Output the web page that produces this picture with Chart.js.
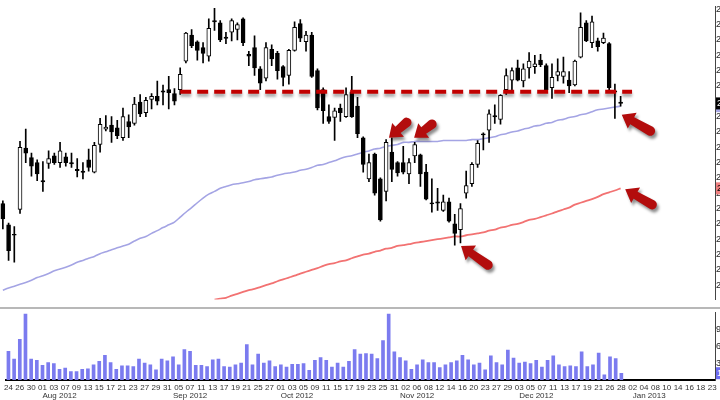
<!DOCTYPE html>
<html>
<head>
<meta charset="utf-8">
<script src="https://cdn.jsdelivr.net/npm/chart.js@4.4.1/dist/chart.umd.min.js"></script>
<style>
html, body { margin: 0; padding: 0; overflow: hidden; background: #fff; }
#wrap { position: relative; width: 720px; height: 400px; overflow: hidden; }
#price { position: absolute; left: 0; top: 0; }
#vol { position: absolute; left: 0; top: 306px; }
#sep { position: absolute; left: 0; top: 307px; width: 720px; height: 2px; background: #b8b8b8; }
</style>
</head>
<body>
<div id="wrap">
  <canvas id="price" width="760" height="306"></canvas>
  <div id="sep"></div>
  <canvas id="vol" width="760" height="94"></canvas>
</div>
<script>
// trading days, Jul 2012 - Jan 2013 (last ones are empty space on the right)
const monthNames = ['Jul', 'Aug', 'Sep', 'Oct', 'Nov', 'Dec', 'Jan'];
const monthYears = [2012, 2012, 2012, 2012, 2012, 2012, 2013];
const dayJul = [24, 25, 26, 27, 30, 31];
const dayAug = [1, 2, 3, 6, 7, 8, 9, 10, 13, 14, 15, 16, 17, 20, 21, 22, 23, 24, 27, 28, 29, 30, 31];
const daySep = [4, 5, 6, 7, 10, 11, 12, 13, 14, 17, 18, 19, 20, 21, 24, 25, 26, 27, 28];
const dayOct = [1, 2, 3, 4, 5, 8, 9, 10, 11, 12, 15, 16, 17, 18, 19, 22, 23, 24, 25, 26, 31];
const dayNov = [1, 2, 5, 6, 7, 8, 9, 12, 13, 14, 15, 16, 19, 20, 21, 23, 26, 27, 28, 29, 30];
const dayDec = [3, 4, 5, 6, 7, 10, 11, 12, 13, 14, 17, 18, 19, 20, 21, 24, 26, 27, 28, 31];
const dayJan = [2, 3, 4, 7, 8, 9, 10, 11, 14, 15, 16, 17, 18, 22, 23];
const monthDays = [dayJul, dayAug, daySep, dayOct, dayNov, dayDec, dayJan];

const openP = [22.66,21.97,21.66,22.47,24.47,24.16,24.00,23.41,23.97,24.22,
  24.00,24.19,24.00,23.78,23.72,24.09,23.69,24.59,25.09,25.22,
  25.13,24.81,25.34,25.28,25.97,25.63,26.06,26.16,26.34,26.38,
  26.25,26.38,27.31,28.16,27.94,27.75,27.47,28.63,28.56,28.09,
  28.25,28.34,28.69,27.53,27.75,27.06,26.75,27.69,27.56,27.13,
  26.84,27.66,28.53,27.94,28.16,27.00,26.38,25.50,25.47,25.78,
  25.50,26.31,25.84,24.81,23.47,24.28,23.47,23.06,24.34,24.00,
  24.00,23.63,24.22,24.25,23.69,22.69,22.72,22.44,22.72,22.00,
  21.81,23.00,23.31,23.94,24.94,25.06,25.53,25.41,26.38,26.69,
  27.09,26.66,27.09,27.13,27.34,27.16,26.44,26.84,26.81,26.69,
  26.53,27.44,28.56,27.91,27.97,27.91,27.88,26.34,25.97];
const highP = [22.75,22.03,21.91,24.69,25.09,24.31,24.09,24.03,24.38,24.31,
  24.66,24.31,24.31,24.13,24.00,24.44,24.66,25.44,25.53,25.50,
  25.38,25.78,25.56,26.13,26.22,26.13,26.25,26.66,26.53,26.81,
  26.41,27.09,28.25,28.34,27.97,27.91,28.69,29.03,28.63,28.25,
  28.69,28.56,28.72,27.63,28.13,27.13,27.91,27.84,27.63,27.16,
  27.69,28.59,28.66,28.28,28.25,27.06,26.44,25.88,25.78,25.91,
  26.44,26.81,26.13,24.84,24.28,24.31,23.50,24.75,24.81,24.03,
  24.53,24.13,24.66,24.28,23.94,23.47,23.16,22.94,22.84,22.31,
  22.66,23.72,24.00,24.72,24.97,25.72,25.88,26.22,27.06,27.09,
  27.34,27.22,27.59,27.50,27.53,27.22,27.22,27.38,27.44,26.97,
  27.34,28.88,28.63,28.78,28.06,28.22,27.91,26.56,26.16];
const lowP = [21.84,20.81,20.75,22.34,24.00,23.56,23.41,23.06,23.81,23.94,
  23.84,23.88,23.84,23.53,23.47,23.72,23.66,24.34,25.03,24.66,
  24.78,24.72,24.81,25.22,25.50,25.50,25.75,25.88,25.88,25.75,
  25.88,26.22,27.25,27.75,27.34,27.25,27.31,28.31,27.94,27.88,
  27.97,28.00,27.81,27.16,26.84,26.38,26.66,27.16,26.72,26.50,
  26.56,27.63,27.94,27.63,26.78,25.72,25.28,25.28,24.72,25.34,
  25.47,25.47,24.81,23.69,23.38,22.94,22.09,22.75,23.38,23.56,
  23.63,23.31,24.00,23.22,22.78,22.38,22.44,22.41,22.06,21.31,
  21.38,22.84,23.22,23.84,24.41,24.66,25.28,25.25,26.22,26.38,
  26.66,26.47,26.75,26.91,27.13,26.28,26.09,26.66,26.59,26.28,
  26.50,27.41,27.94,27.75,27.63,27.88,26.38,25.44,25.84];
const closeP = [22.16,21.13,21.63,24.50,24.31,23.88,23.63,23.37,24.13,24.00,
  24.38,24.00,23.96,23.74,23.68,23.84,24.56,25.25,25.16,25.00,
  24.88,25.50,25.16,25.91,25.59,26.03,26.16,26.00,26.30,26.28,
  26.00,26.88,28.22,27.81,27.66,27.56,28.38,28.59,28.00,28.05,
  28.63,28.50,27.91,27.47,27.09,26.59,27.75,27.38,27.00,26.78,
  27.66,28.41,28.06,28.16,26.81,25.78,25.69,25.34,25.69,25.63,
  26.22,25.50,24.94,23.94,24.00,23.00,22.13,24.66,23.78,23.66,
  23.69,24.00,24.59,23.63,22.81,22.65,22.68,22.72,22.09,21.69,
  22.50,23.25,23.94,24.63,24.90,25.59,25.49,26.19,26.84,27.00,
  26.69,27.06,27.31,27.22,27.19,26.38,26.78,26.97,26.97,26.50,
  27.31,28.41,27.97,28.59,27.78,28.06,26.44,26.30,25.93];
// volume, millions
const volume = [5.1,3.7,7.2,11.7,3.7,3.5,2.6,3.1,2.9,1.9,
  2.1,1.5,1.5,1.9,2.0,2.7,3.3,4.4,3.1,1.9,
  2.5,2.5,2.4,3.7,3.0,2.7,1.8,3.7,3.4,4.1,
  2.7,5.4,5.1,2.6,2.6,2.4,3.6,3.7,2.4,2.3,
  2.7,3.0,6.3,2.7,4.6,3.0,3.4,2.4,2.7,2.3,
  2.8,2.8,2.9,1.7,3.5,4.0,3.5,2.3,3.0,2.3,
  3.3,5.4,4.6,4.7,4.6,3.8,7.0,11.7,5.0,4.0,
  3.4,1.9,2.7,3.6,3.1,3.1,2.2,2.7,3.1,3.4,
  4.4,3.6,2.7,3.0,1.8,4.3,3.1,2.7,5.3,3.9,
  3.0,3.2,2.9,3.5,2.3,3.5,4.3,2.7,2.4,2.5,
  2.4,5.0,2.4,2.7,4.8,0.9,4.1,3.8,1.2];
// moving averages
const maFast = [19.84,19.91,19.97,20.03,20.09,20.16,20.25,20.31,20.38,20.47,
  20.53,20.59,20.66,20.75,20.81,20.88,20.94,21.03,21.09,21.16,
  21.22,21.28,21.34,21.44,21.53,21.59,21.69,21.78,21.88,21.97,
  22.06,22.22,22.38,22.53,22.69,22.84,22.97,23.06,23.16,23.22,
  23.28,23.31,23.34,23.38,23.44,23.47,23.50,23.53,23.59,23.63,
  23.66,23.69,23.75,23.78,23.84,23.91,23.94,24.00,24.06,24.13,
  24.19,24.22,24.28,24.34,24.38,24.44,24.47,24.53,24.56,24.59,
  24.66,24.66,24.69,24.69,24.69,24.69,24.69,24.72,24.72,24.72,
  24.72,24.72,24.75,24.75,24.78,24.81,24.84,24.91,24.94,25.00,
  25.03,25.09,25.13,25.19,25.22,25.28,25.31,25.38,25.41,25.47,
  25.50,25.56,25.59,25.66,25.72,25.75,25.78,25.81,25.84];
const maSlowStart = 37;
const maSlow = [19.53,19.56,19.59,19.66,19.72,19.78,19.84,19.88,19.94,20.00,
  20.06,20.13,20.19,20.25,20.31,20.38,20.44,20.50,20.56,20.63,
  20.69,20.72,20.78,20.81,20.88,20.94,21.00,21.03,21.09,21.13,
  21.19,21.22,21.28,21.31,21.34,21.38,21.41,21.44,21.47,21.50,
  21.53,21.56,21.59,21.59,21.63,21.66,21.69,21.72,21.78,21.81,
  21.88,21.91,21.97,22.00,22.06,22.13,22.16,22.22,22.28,22.34,
  22.41,22.47,22.53,22.63,22.69,22.75,22.81,22.88,22.97,23.03,
  23.09,23.16];
// dashed resistance line
const resistLevel = 26.31;
const resistFrom = 31;
const resistTo = 110;
// red arrows: [index, price] of tip and tail
const arrowTips = [[67.5, 24.81], [71.9, 24.81], [80.1, 21.28], [108.2, 25.56], [108.8, 23.13]];
const arrowTails = [[70.6, 25.31], [75.0, 25.25], [84.8, 20.66], [113.2, 25.03], [113.5, 22.63]];

const labels = [];
const dayOf = [];
const monthLabel = [];
monthDays.forEach((days, m) => {
  days.forEach((d, j) => {
    labels.push(monthNames[m] + ' ' + d + ' ' + monthYears[m]);
    dayOf.push(String(d).padStart(2, '0'));
    monthLabel.push(j === 0 && m > 0 ? monthNames[m] + ' ' + monthYears[m] : '');
  });
});

const bodies = openP.map((o, i) => [o, closeP[i]]);
const wicks = lowP.map((l, i) => [l, highP[i]]);
const bodyColors = openP.map((o, i) => closeP[i] >= o ? '#ffffff' : '#000000');
const maSlowData = labels.map((_, i) => i >= maSlowStart && i - maSlowStart < maSlow.length ? maSlow[i - maSlowStart] : null);
const resistData = labels.map((_, i) => i >= resistFrom && i <= resistTo ? resistLevel : null);

const FONT = 'Liberation Sans';

const shadowPlugin = {
  id: 'shadow',
  beforeDatasetDraw(chart, args) {
    if (!chart.data.datasets[args.index].shadow) return;
    const ctx = chart.ctx;
    ctx.save();
    ctx.shadowColor = 'rgba(0,0,0,0.35)';
    ctx.shadowBlur = 3;
    ctx.shadowOffsetY = 3;
  },
  afterDatasetDraw(chart, args) {
    if (chart.data.datasets[args.index].shadow) chart.ctx.restore();
  }
};

function drawArrow(ctx, sx, sy, tx, ty) {
  const len = Math.hypot(tx - sx, ty - sy);
  const ux = (tx - sx) / len, uy = (ty - sy) / len;
  const nx = -uy, ny = ux;
  const headLen = 12, headHalf = 9, shaft = 4;
  const bx = tx - ux * headLen, by = ty - uy * headLen;
  ctx.beginPath();
  ctx.moveTo(tx, ty);
  ctx.lineTo(bx + nx * headHalf, by + ny * headHalf);
  ctx.lineTo(bx + nx * shaft, by + ny * shaft);
  ctx.lineTo(sx + nx * shaft * 1.2, sy + ny * shaft * 1.2);
  ctx.arc(sx, sy, shaft * 1.2, Math.atan2(ny, nx), Math.atan2(-ny, -nx));
  ctx.lineTo(bx - nx * shaft, by - ny * shaft);
  ctx.lineTo(bx - nx * headHalf, by - ny * headHalf);
  ctx.closePath();
  ctx.fill();
}

function tagLabel(ctx, x, y, text, bg, fg) {
  ctx.fillStyle = bg;
  ctx.fillRect(x, y - 6, 44, 12);
  ctx.fillStyle = fg;
  ctx.font = '9px ' + FONT;
  ctx.textBaseline = 'middle';
  ctx.textAlign = 'left';
  ctx.fillText(text, x + 1, y);
}

const annotatePlugin = {
  id: 'annotate',
  afterDatasetsDraw(chart) {
    const ctx = chart.ctx, xs = chart.scales.x, ys = chart.scales.y;
    ctx.save();
    ctx.fillStyle = '#b30d0d';
    ctx.shadowColor = 'rgba(0,0,0,0.45)';
    ctx.shadowBlur = 3;
    ctx.shadowOffsetX = 2;
    ctx.shadowOffsetY = 3;
    arrowTips.forEach((tip, k) => {
      const tail = arrowTails[k];
      drawArrow(ctx, xs.getPixelForValue(tail[0]), ys.getPixelForValue(tail[1]),
        xs.getPixelForValue(tip[0]), ys.getPixelForValue(tip[1]));
    });
    ctx.restore();
  },
  afterDraw(chart) {
    const ctx = chart.ctx, ys = chart.scales.y, x = chart.chartArea.right + 1;
    const last = closeP.length - 1;
    ctx.save();
    tagLabel(ctx, x, ys.getPixelForValue(maSlow[maSlow.length - 1]), maSlow[maSlow.length - 1].toFixed(2), '#f08080', '#000');
    tagLabel(ctx, x, ys.getPixelForValue(maFast[last]), maFast[last].toFixed(2), '#a8a8e6', '#000');
    tagLabel(ctx, x, ys.getPixelForValue(closeP[last]), closeP[last].toFixed(2), '#000', '#fff');
    ctx.restore();
  }
};

new Chart(document.getElementById('price'), {
  type: 'bar',
  data: {
    labels: labels,
    datasets: [
      { type: 'line', data: resistData, borderColor: '#c10000', borderWidth: 4, borderDash: [11, 6],
        pointRadius: 0, order: 0, shadow: true },
      { type: 'bar', data: bodies, backgroundColor: bodyColors, borderColor: '#000', borderWidth: 1,
        borderSkipped: false, barThickness: 4, grouped: false, order: 1 },
      { type: 'bar', data: wicks, backgroundColor: '#000', barThickness: 1, grouped: false, order: 2 },
      { type: 'line', data: maFast, borderColor: '#a4a4e4', borderWidth: 1.6, pointRadius: 0, tension: 0.3, order: 3 },
      { type: 'line', data: maSlowData, borderColor: '#f27272', borderWidth: 1.8, pointRadius: 0, tension: 0.3, order: 3 }
    ]
  },
  options: {
    responsive: false,
    animation: false,
    events: [],
    layout: { padding: 0 },
    plugins: { legend: { display: false }, tooltip: { enabled: false } },
    scales: {
      x: { display: false, offset: true },
      y: {
        position: 'right', min: 19.53125, max: 29.09375,
        grid: { display: false, drawTicks: false },
        border: { display: true, color: '#444', width: 1 },
        ticks: { stepSize: 0.5, includeBounds: false, padding: 1, color: '#222',
          font: { family: FONT, size: 9 }, callback: v => v.toFixed(2) },
        afterFit(s) { s.width = 45; }
      }
    }
  },
  plugins: [shadowPlugin, annotatePlugin]
});

const volTagPlugin = {
  id: 'volTag',
  afterDraw(chart) {
    const ctx = chart.ctx, ys = chart.scales.y;
    const v = volume[volume.length - 1];
    ctx.save();
    tagLabel(ctx, chart.chartArea.right + 1, ys.getPixelForValue(v), v.toFixed(1) + 'M', '#6b6bf0', '#fff');
    ctx.restore();
  }
};

new Chart(document.getElementById('vol'), {
  type: 'bar',
  data: {
    labels: labels,
    datasets: [{ data: volume, backgroundColor: '#7b7bef', barThickness: 3 }]
  },
  options: {
    responsive: false,
    animation: false,
    events: [],
    layout: { padding: { top: 4 } },
    plugins: { legend: { display: false }, tooltip: { enabled: false } },
    scales: {
      x: {
        offset: true, weight: 0,
        grid: { display: false, drawTicks: false },
        border: { display: true, color: '#000', width: 2 },
        ticks: { autoSkip: false, maxRotation: 0, padding: 4, color: '#333',
          font: { family: FONT, size: 8, lineHeight: 1 },
          callback: (v, i) => i % 2 === 0 ? dayOf[i] : '' },
        afterFit(s) { s.height = 12; }
      },
      x2: {
        type: 'category', position: 'bottom', offset: true, weight: 1,
        grid: { display: false, drawTicks: false },
        border: { display: false },
        ticks: { autoSkip: false, maxRotation: 0, align: 'start', padding: 0, color: '#333',
          font: { family: FONT, size: 8, lineHeight: 1 },
          callback: (v, i) => monthLabel[i] },
        afterFit(s) { s.height = 8; }
      },
      y: {
        position: 'right', min: 0, max: 12,
        grid: { display: false, drawTicks: false },
        border: { display: true, color: '#444', width: 1 },
        ticks: { stepSize: 3, padding: 1, color: '#222', font: { family: FONT, size: 9 },
          callback: v => (v === 0 || v === 12) ? '' : v + 'M' },
        afterFit(s) { s.width = 45; }
      }
    }
  },
  plugins: [volTagPlugin]
});
</script>
</body>
</html>
